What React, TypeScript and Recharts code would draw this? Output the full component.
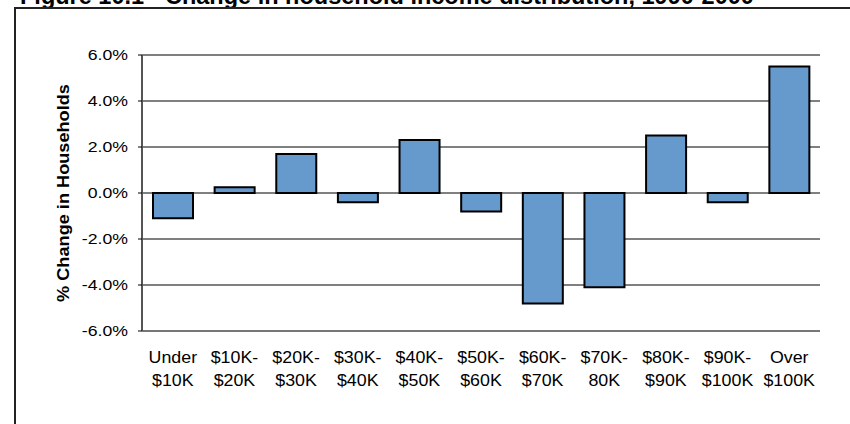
import React from "react";
import { BarChart, Bar, XAxis, YAxis, CartesianGrid } from "recharts";

const categories = [
  "Under|$10K",
  "$10K-|$20K",
  "$20K-|$30K",
  "$30K-|$40K",
  "$40K-|$50K",
  "$50K-|$60K",
  "$60K-|$70K",
  "$70K-|80K",
  "$80K-|$90K",
  "$90K-|$100K",
  "Over|$100K",
];
const changes = [-1.1, 0.25, 1.7, -0.4, 2.3, -0.8, -4.8, -4.1, 2.5, -0.4, 5.5];
const yTicks = [-6, -4, -2, 0, 2, 4, 6];

const data = categories.map((c, i) => ({ name: c, value: changes[i] }));

const FONT = "'Liberation Sans', Arial, sans-serif";

const XTick = (props: any) => {
  const { x, y, payload } = props;
  const lines = String(payload.value).split("|");
  return (
    <g transform={`translate(${x},${y}) scale(1.08,1)`}>
      <text x={0} y={0} textAnchor="middle" fontFamily={FONT} fontSize={16.5} fill="#000">
        {lines.map((l, i) => (
          <tspan key={i} x={0} dy={i === 0 ? 24 : 23.5}>
            {l}
          </tspan>
        ))}
      </text>
    </g>
  );
};

const YTick = (props: any) => {
  const { x, y, payload } = props;
  return (
    <g transform={`translate(${x},${y}) scale(1.22,1)`}>
      <text x={0} y={0} dy="0.36em" textAnchor="end" fontFamily={FONT} fontSize={14.5} fill="#000">
        {`${Number(payload.value).toFixed(1)}%`}
      </text>
    </g>
  );
};

export default function App() {
  return (
    <div
      style={{
        position: "absolute",
        left: 0,
        top: 0,
        width: 850,
        height: 424,
        overflow: "hidden",
        background: "#fff",
      }}
    >
      <div
        style={{
          position: "absolute",
          left: 20,
          top: -17,
          fontFamily: FONT,
          fontWeight: "bold",
          fontSize: 23.5,
          lineHeight: "normal",
          whiteSpace: "nowrap",
          color: "#000",
        }}
      >
        Figure 10.1 - Change in household income distribution, 1990-2000
      </div>
      <div
        style={{
          position: "absolute",
          left: 14,
          top: 7,
          width: 900,
          height: 500,
          border: "2px solid #222",
        }}
      />
      <div
        style={{
          position: "absolute",
          left: 62.5,
          top: 192.5,
          transform: "translate(-50%, -50%) rotate(-90deg) scale(1.1,1)",
          fontFamily: FONT,
          fontWeight: "bold",
          fontSize: 16.5,
          lineHeight: "normal",
          whiteSpace: "nowrap",
          color: "#000",
        }}
      >
        % Change in Households
      </div>
      <div style={{ position: "absolute", left: 0, top: 0 }}>
        <BarChart
          width={850}
          height={424}
          data={data}
          margin={{ top: 55, right: 30, bottom: 0, left: 62 }}
          barSize={40}
        >
          <CartesianGrid horizontal vertical={false} stroke="#000" strokeWidth={1} />
          <XAxis
            dataKey="name"
            axisLine={{ stroke: "#777", strokeWidth: 2 }}
            tickLine={false}
            tick={<XTick />}
            interval={0}
            height={93}
          />
          <YAxis
            yAxisId={0}
            domain={[-6, 6]}
            ticks={yTicks}
            width={80}
            axisLine={{ stroke: "#555", strokeWidth: 2 }}
            tickLine={{ stroke: "#000" }}
            tickSize={4}
            tickMargin={10}
            tick={<YTick />}
            allowDataOverflow
          />
          <YAxis
            yAxisId="r"
            orientation="right"
            width={0}
            domain={[-6, 6]}
            tick={false}
            tickLine={false}
            axisLine={{ stroke: "#999", strokeWidth: 2 }}
          />
          <Bar
            dataKey="value"
            yAxisId={0}
            fill="#6699CC"
            stroke="#000"
            strokeWidth={2}
            isAnimationActive={false}
          />
        </BarChart>
      </div>
    </div>
  );
}
